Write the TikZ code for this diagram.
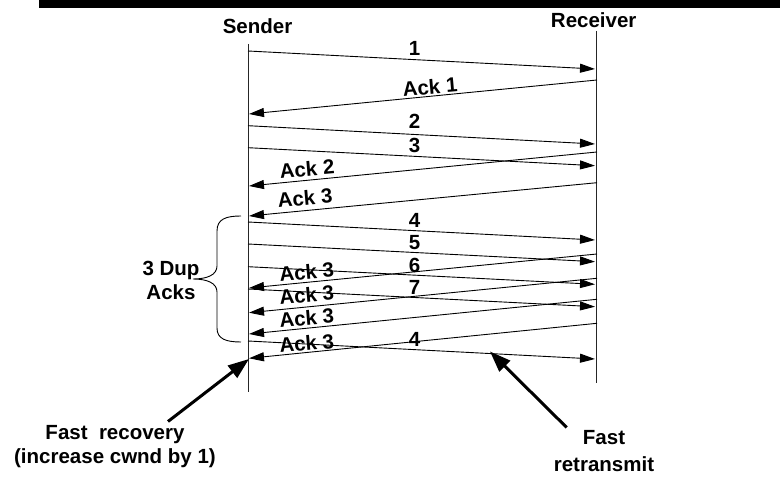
\documentclass[tikz,border=0pt]{standalone}
\usepackage{fontspec}
\setmainfont{Liberation Sans}
\usetikzlibrary{arrows.meta}
\begin{document}
\begin{tikzpicture}[x=1pt,y=-1pt,
  lbl/.style={font=\fontsize{20.5}{24}\selectfont\bfseries, inner sep=0pt, align=center},
  acklbl/.style={lbl, rotate=5},
  lifeline/.style={line width=0.9pt, draw=black!85},
  msg/.style={line width=0.9pt, -{Triangle[length=15pt,width=9pt]}},
  pointer/.style={line width=3pt, -{Triangle[length=21pt,width=15pt]}},
  brace/.style={line width=0.9pt}]
\useasboundingbox (0,0) rectangle (780,478);

% title bar
\fill (39,0) rectangle (780,8.5);

% lifelines
\node[lbl] (sender) at (257.5,26) {Sender};
\node[lbl] (receiver) at (593.7,20) {Receiver};
\coordinate (sTop) at (248,44);
\coordinate (sBot) at (248,392);
\coordinate (rTop) at (596,31);
\coordinate (rBot) at (596,383);
\draw[lifeline] (sTop) -- (sBot);
\draw[lifeline] (rTop) -- (rBot);

% data segments: sender -> receiver
\foreach \n/\ya/\yb/\t/\ly in {1/51/69/1/48, 2/125.7/144/2/121.7, 3/147.7/165.7/3/145,
    4/222/240/4/220.7, 5/244/261.7/5/242.7, 6/266.7/284.3/6/265, 7/289/306.7/7/287,
    8/341/359/4/339.3} {
  \coordinate (d\n s) at (248,\ya);
  \coordinate (d\n r) at (595,\yb);
  \draw[msg] (d\n s) -- (d\n r);
  \node[lbl] (dl\n) at (414.5,\ly) {\t};
}

% acknowledgements: receiver -> sender
\foreach \n/\ya/\yb/\t/\lx/\ly in {1/80/114/Ack 1/430/87, 2/152/186/Ack 2/307/169,
    3/182.7/216/Ack 3/305/198, 4/254/288/Ack 3/306.7/271.7, 5/278.3/312.7/Ack 3/306.7/295,
    6/299.3/334/Ack 3/306.7/318, 7/323.3/358.3/Ack 3/306.7/343.3} {
  \coordinate (a\n r) at (597,\ya);
  \coordinate (a\n s) at (249,\yb);
  \draw[msg] (a\n r) -- (a\n s);
  \node[acklbl] (al\n) at (\lx,\ly) {\t};
}

% curly brace over the duplicate acks
\draw[brace] (241,216) .. controls (226,216) and (217,219) .. (217,231)
  -- (217,266) .. controls (217,275) and (207,279) .. (193,279)
  .. controls (207,279) and (217,283) .. (217,292)
  -- (217,328) .. controls (217,339) and (226,342) .. (241,342);
\node[lbl] (dup) at (171,280) {3 Dup\\Acks};

% annotations
\coordinate (recTail) at (168,421.5);
\coordinate (recHead) at (249,359);
\draw[pointer] (recTail) -- (recHead);
\node[lbl] (recovery) at (115,446.5) {Fast\ \ recovery\\(increase cwnd by 1)};

\coordinate (rtxTail) at (566.7,427.5);
\coordinate (rtxHead) at (490,351.5);
\draw[pointer] (rtxTail) -- (rtxHead);
\node[lbl, font=\fontsize{20.5}{26.5}\selectfont\bfseries] (retransmit) at (604,451) {Fast\\retransmit};
\end{tikzpicture}
\end{document}
